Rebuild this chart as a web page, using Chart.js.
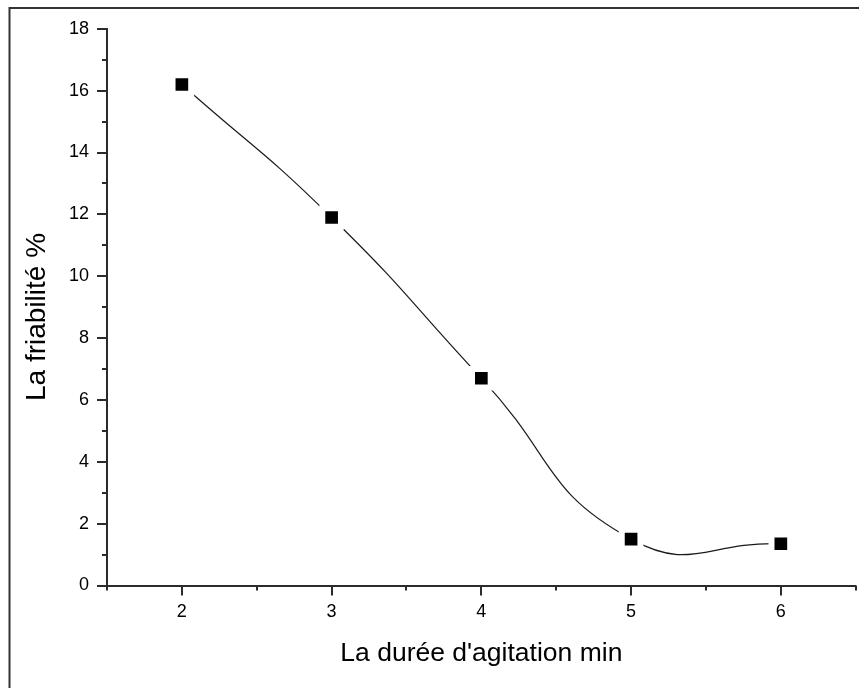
<!DOCTYPE html>
<html>
<head>
<meta charset="utf-8">
<title>Friabilité</title>
<script src="https://cdn.jsdelivr.net/npm/chart.js@4.4.0/dist/chart.umd.min.js"></script>
<style>
  html, body { margin: 0; padding: 0; background: #fff; }
  canvas { display: block; }
</style>
</head>
<body>
<canvas id="friabChart" width="859" height="688"></canvas>
<script>
// Durée d'agitation (min) et friabilité (%)
const durees = [2, 3, 4, 5, 6];
const friabilite = [16.2, 11.9, 6.7, 1.5, 1.35];

// Graduations principales portant un libellé
const xLabels = [2, 3, 4, 5, 6];
const yLabels = [0, 2, 4, 6, 8, 10, 12, 14, 16, 18];

const police = "'Liberation Sans', Arial, sans-serif";
const couleurAxe = '#2b2b2b';

// Cadre extérieur de la figure
const cadre = {
    id: 'cadre',
    beforeDraw(chart) {
        const ctx = chart.ctx;
        ctx.save();
        ctx.fillStyle = '#fff';
        ctx.fillRect(0, 0, chart.width, chart.height);
        ctx.strokeStyle = '#333';
        ctx.lineWidth = 2;
        ctx.beginPath();
        ctx.moveTo(9.5, chart.height + 5);
        ctx.lineTo(9.5, 8);
        ctx.lineTo(chart.width + 5, 8);
        ctx.stroke();
        ctx.restore();
    }
};

// Graduations extérieures : longues pour les valeurs libellées, courtes sinon
const graduations = {
    id: 'graduations',
    afterDraw(chart) {
        const ctx = chart.ctx;
        const xs = chart.scales.x;
        const ys = chart.scales.y;
        const area = chart.chartArea;
        ctx.save();
        ctx.strokeStyle = couleurAxe;
        ctx.lineWidth = 2;
        ctx.beginPath();
        xs.ticks.forEach(t => {
            const px = Math.round(xs.getPixelForValue(t.value));
            const len = xLabels.includes(t.value) ? 10 : 5;
            ctx.moveTo(px, area.bottom);
            ctx.lineTo(px, area.bottom + len);
        });
        ys.ticks.forEach(t => {
            const py = Math.round(ys.getPixelForValue(t.value));
            const len = yLabels.includes(t.value) ? 10 : 5;
            ctx.moveTo(area.left, py);
            ctx.lineTo(area.left - len, py);
        });
        ctx.stroke();
        ctx.restore();
    }
};

const ctx = document.getElementById('friabChart').getContext('2d');

new Chart(ctx, {
    type: 'line',
    data: {
        datasets: [{
            data: durees.map((d, i) => ({ x: d, y: friabilite[i] })),
            borderColor: '#1a1a1a',
            borderWidth: 1.2,
            tension: 0.5,
            pointStyle: 'rect',
            // carré noir entouré d'un liseré blanc qui coupe la courbe
            pointRadius: 13.2,
            pointBackgroundColor: '#000',
            pointBorderColor: '#fff',
            pointBorderWidth: 6,
            fill: false
        }]
    },
    options: {
        responsive: false,
        animation: false,
        // pas de marge automatique pour les marqueurs : la zone de tracé est fixée à la main
        layout: { autoPadding: false, padding: { left: 0, top: 28.5, right: 3.3, bottom: 0 } },
        plugins: {
            legend: { display: false },
            tooltip: { enabled: false }
        },
        scales: {
            x: {
                type: 'linear',
                min: 1.5,
                max: 6.5,
                afterFit: s => { s.height = 102.5; },
                // graduations invisibles : elles ne servent qu'à écarter les libellés de l'axe
                grid: { display: true, drawOnChartArea: false, drawTicks: true, tickLength: 16, tickColor: 'rgba(0,0,0,0)' },
                border: { display: true, color: couleurAxe, width: 2 },
                ticks: {
                    stepSize: 0.5,
                    autoSkip: false,
                    maxRotation: 0,
                    padding: 0,
                    color: '#000',
                    font: { family: police, size: 18 },
                    callback: v => xLabels.includes(v) ? String(v) : ''
                },
                title: {
                    display: true,
                    text: "La durée d'agitation min",
                    color: '#000',
                    font: { family: police, size: 26.5 },
                    padding: { top: 0, bottom: 18.3 }
                }
            },
            y: {
                min: 0,
                max: 18,
                afterFit: s => { s.width = 107; },
                grid: { display: false, drawTicks: false },
                border: { display: true, color: couleurAxe, width: 2 },
                ticks: {
                    stepSize: 1,
                    autoSkip: false,
                    padding: 18,
                    color: '#000',
                    font: { family: police, size: 18 },
                    callback: v => yLabels.includes(v) ? String(v) : ''
                },
                title: {
                    display: true,
                    // espaces finales : le titre est un peu décalé vers le bas
                    text: 'La friabilité %\u2002\u2009',
                    color: '#000',
                    font: { family: police, size: 28 },
                    padding: { top: 20.5, bottom: 0 }
                }
            }
        }
    },
    plugins: [cadre, graduations]
});
</script>
</body>
</html>
